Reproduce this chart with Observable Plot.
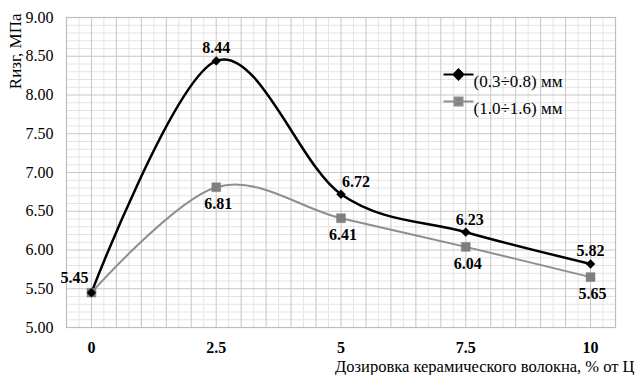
<!DOCTYPE html>
<html>
<head>
<meta charset="utf-8">
<script src="https://cdn.jsdelivr.net/npm/d3@7"></script>
<script src="https://cdn.jsdelivr.net/npm/@observablehq/plot@0.6"></script>
<style>
  html, body { margin: 0; padding: 0; background: #fff; }
  svg { display: block; }
  #chart svg, #chart svg text { font-family: "Liberation Serif", "Times New Roman", serif !important; }
</style>
</head>
<body>
<div id="chart"></div>
<script>
// ---- data ----
const dosage = [0, 2.5, 5, 7.5, 10];
const seriesA = [5.45, 8.44, 6.72, 6.23, 5.82];   // (0.3÷0.8) мм
const seriesB = [5.45, 6.81, 6.41, 6.04, 5.65];   // (1.0÷1.6) мм
const seriesNames = ["(0.3÷0.8) мм", "(1.0÷1.6) мм"];
const xTicks = [0, 2.5, 5, 7.5, 10];
const yTicks = [5, 5.5, 6, 6.5, 7, 7.5, 8, 8.5, 9];
const yTitle = "Rизг, МПа";
const xTitle = "Дозировка керамического волокна, % от Ц";

const A = dosage.map((x, i) => ({x, y: seriesA[i], i}));
const B = dosage.map((x, i) => ({x, y: seriesB[i], i}));

const serif = "Liberation Serif";
const majorX = d3.range(-0.5, 10.51, 0.5);
const minorX = d3.range(-0.25, 10.5, 0.5);
const majorY = yTicks;
const minorY = d3.range(5, 9.001, 0.1).filter(v => Math.abs(v * 2 - Math.round(v * 2)) > 1e-6);

// custom legend symbols: short line with marker
const legendDiamond = {
  draw(ctx) {
    ctx.moveTo(-15, 0); ctx.lineTo(15, 0);
    ctx.moveTo(0, -5); ctx.lineTo(5, 0); ctx.lineTo(0, 5); ctx.lineTo(-5, 0); ctx.closePath();
  }
};
const legendSquare = {
  draw(ctx) {
    ctx.moveTo(-15, 0); ctx.lineTo(15, 0);
    ctx.rect(-4, -4, 8, 8);
  }
};

const labelStyle = {fontFamily: serif, fontSize: 16, fontWeight: "bold", fill: "#000"};

const chart = Plot.plot({
  width: 636,
  height: 375,
  marginLeft: 66,
  marginRight: 21,
  marginTop: 17,
  marginBottom: 48,
  style: {fontFamily: serif, fontSize: "16px", color: "#000", background: "#fff"},
  x: {domain: [-0.5, 10.5]},
  y: {domain: [5, 9]},
  marks: [
    Plot.ruleX(minorX, {stroke: "#e4e4e4", strokeWidth: 1}),
    Plot.ruleY(minorY, {stroke: "#e4e4e4", strokeWidth: 1}),
    Plot.ruleX(majorX, {stroke: "#c6c6c6", strokeWidth: 1}),
    Plot.ruleY(majorY, {stroke: "#c6c6c6", strokeWidth: 1}),
    Plot.frame({stroke: "#bdbdbd", strokeWidth: 1.2}),
    Plot.axisX(xTicks, {tickSize: 0, tickPadding: 14, fontSize: 16, fontWeight: "bold", fontFamily: serif, fill: "#000", tickFormat: d => String(d), label: null}),
    Plot.axisY(yTicks, {tickSize: 0, tickPadding: 13, fontSize: 16, fontFamily: serif, fill: "#000", tickFormat: d => d.toFixed(2), label: null}),
    // series lines
    Plot.line(B, {x: "x", y: "y", curve: "cardinal", stroke: "#8e8e8e", strokeWidth: 2}),
    Plot.line(A, {x: "x", y: "y", curve: "cardinal", stroke: "#000", strokeWidth: 2.5}),
    Plot.dot(B, {x: "x", y: "y", symbol: "square", r: 5, fill: "#7f7f7f", stroke: "#7f7f7f", strokeWidth: 0.5}),
    Plot.dot(A, {x: "x", y: "y", symbol: "diamond2", r: 4, fill: "#000", stroke: "#000", strokeWidth: 0.5}),
    // data labels, series A
    Plot.text(A, {filter: d => d.i === 0, x: "x", y: "y", text: d => d.y.toFixed(2), dx: -17, dy: -15, ...labelStyle}),
    Plot.text(A, {filter: d => d.i === 1 || d.i === 4, x: "x", y: "y", text: d => d.y.toFixed(2), dy: -13, ...labelStyle}),
    Plot.text(A, {filter: d => d.i === 2, x: "x", y: "y", text: d => d.y.toFixed(2), dx: 15, dy: -12, ...labelStyle}),
    Plot.text(A, {filter: d => d.i === 3, x: "x", y: "y", text: d => d.y.toFixed(2), dx: 4, dy: -12, ...labelStyle}),
    // data labels, series B
    Plot.text(B, {filter: d => d.i > 0, x: "x", y: "y", text: d => d.y.toFixed(2), dx: 2, dy: 17, ...labelStyle}),
    // legend
    Plot.dot([seriesNames[0]], {frameAnchor: "top-right", dx: -157, dy: 57, symbol: legendDiamond, fill: "#000", stroke: "#000", strokeWidth: 2}),
    Plot.dot([seriesNames[1]], {frameAnchor: "top-right", dx: -157, dy: 84, symbol: legendSquare, fill: "#7f7f7f", stroke: "#8e8e8e", strokeWidth: 2}),
    Plot.text([seriesNames[0]], {frameAnchor: "top-right", dx: -142, dy: 57, text: d => d, textAnchor: "start", fontFamily: serif, fontSize: 17, fill: "#000"}),
    Plot.text([seriesNames[1]], {frameAnchor: "top-right", dx: -142, dy: 84, text: d => d, textAnchor: "start", fontFamily: serif, fontSize: 17, fill: "#000"}),
    // axis titles
    Plot.text([yTitle], {frameAnchor: "top-left", dx: -51, dy: -4, rotate: -90, textAnchor: "end", lineAnchor: "middle", text: d => d, fontFamily: serif, fontSize: 17, fill: "#000"}),
    Plot.text([xTitle], {frameAnchor: "bottom-right", dx: 19, dy: 39, textAnchor: "end", lineAnchor: "middle", text: d => d, fontFamily: serif, fontSize: 16.5, fill: "#000"})
  ]
});
document.getElementById("chart").appendChild(chart);
</script>
</body>
</html>
